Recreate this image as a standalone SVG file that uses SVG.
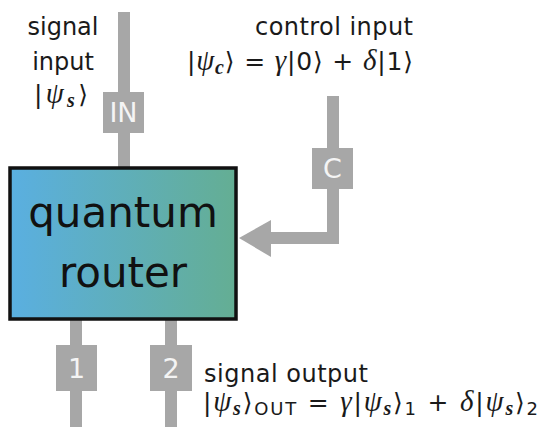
<svg xmlns="http://www.w3.org/2000/svg" width="541" height="427" viewBox="0 0 541 427">
<style>
.wire{stroke:#a7a7a7;stroke-width:12;fill:none}
.port{fill:#a7a7a7}
.plab{fill:#f4f4f4;font-family:"DejaVu Sans",sans-serif;font-size:27px;text-anchor:middle}
.lab{fill:#1a1a1a;font-family:"DejaVu Sans",sans-serif;font-size:24px}
.fm{fill:#1a1a1a;font-family:"DejaVu Sans",sans-serif;font-size:25px}
.m{font-family:"Liberation Serif",serif;font-style:italic;font-size:29px}
.sb{font-family:"Liberation Serif",serif;font-style:italic;font-weight:bold;font-size:20px}
.big{fill:#111;font-family:"DejaVu Sans",sans-serif;font-size:42px;text-anchor:middle}
</style>
<defs>
<linearGradient id="g" x1="0" y1="0" x2="1" y2="0">
<stop offset="0" stop-color="#5aafe1"/>
<stop offset="1" stop-color="#64ae93"/>
</linearGradient>
</defs>
<g id="connectors">
<line class="wire" x1="124" y1="12" x2="124" y2="168"/>
<polyline class="wire" points="333,96 333,238 268,238" stroke-linejoin="miter"/>
<polygon class="port" points="239,238 271,220 271,257"/>
<line class="wire" x1="76" y1="320" x2="76" y2="427"/>
<line class="wire" x1="171" y1="320" x2="171" y2="427"/>
</g>
<g id="router">
<rect x="10" y="168" width="226" height="151" fill="url(#g)" stroke="#111" stroke-width="3.5"/>
<text class="big" x="123" y="227">quantum</text>
<text class="big" x="123" y="287">router</text>
</g>
<g id="port-in">
<rect class="port" x="103" y="92" width="41" height="41"/>
<text class="plab" x="123.5" y="122">IN</text>
</g>
<g id="port-c">
<rect class="port" x="312" y="148" width="41" height="41"/>
<text class="plab" x="332.5" y="178">C</text>
</g>
<g id="port-1">
<rect class="port" x="56" y="345" width="41" height="46"/>
<text class="plab" x="76.5" y="378">1</text>
</g>
<g id="port-2">
<rect class="port" x="150" y="345" width="42" height="46"/>
<text class="plab" x="171" y="378">2</text>
</g>
<g id="signal-input-label">
<text class="lab" x="63" y="35" text-anchor="middle">signal</text>
<text class="lab" x="63" y="70" text-anchor="middle">input</text>
<text class="fm" x="34" y="103" textLength="54" lengthAdjust="spacing">|<tspan class="m">ψ</tspan><tspan class="sb" dy="4">s</tspan><tspan dy="-4">⟩</tspan></text>
</g>
<g id="control-input-label">
<text class="lab" x="334" y="35" text-anchor="middle" textLength="158" lengthAdjust="spacing">control input</text>
<text class="fm" x="187" y="70" textLength="226" lengthAdjust="spacing">|<tspan class="m">ψ</tspan><tspan class="sb" dy="4">c</tspan><tspan dy="-4">⟩ = </tspan><tspan class="m">γ</tspan>|0⟩ + <tspan class="m">δ</tspan>|1⟩</text>
</g>
<g id="signal-output-label">
<text class="lab" x="204" y="382" textLength="164" lengthAdjust="spacing">signal output</text>
<text class="fm" x="203" y="411" textLength="335" lengthAdjust="spacing">|<tspan class="m">ψ</tspan><tspan class="sb" dy="4">s</tspan><tspan dy="-4">⟩</tspan><tspan font-size="18" dy="4">OUT</tspan><tspan dy="-4"> = </tspan><tspan class="m">γ</tspan>|<tspan class="m">ψ</tspan><tspan class="sb" dy="4">s</tspan><tspan dy="-4">⟩</tspan><tspan font-size="18" dy="4">1</tspan><tspan dy="-4"> + </tspan><tspan class="m">δ</tspan>|<tspan class="m">ψ</tspan><tspan class="sb" dy="4">s</tspan><tspan dy="-4">⟩</tspan><tspan font-size="18" dy="4">2</tspan></text>
</g>
</svg>
